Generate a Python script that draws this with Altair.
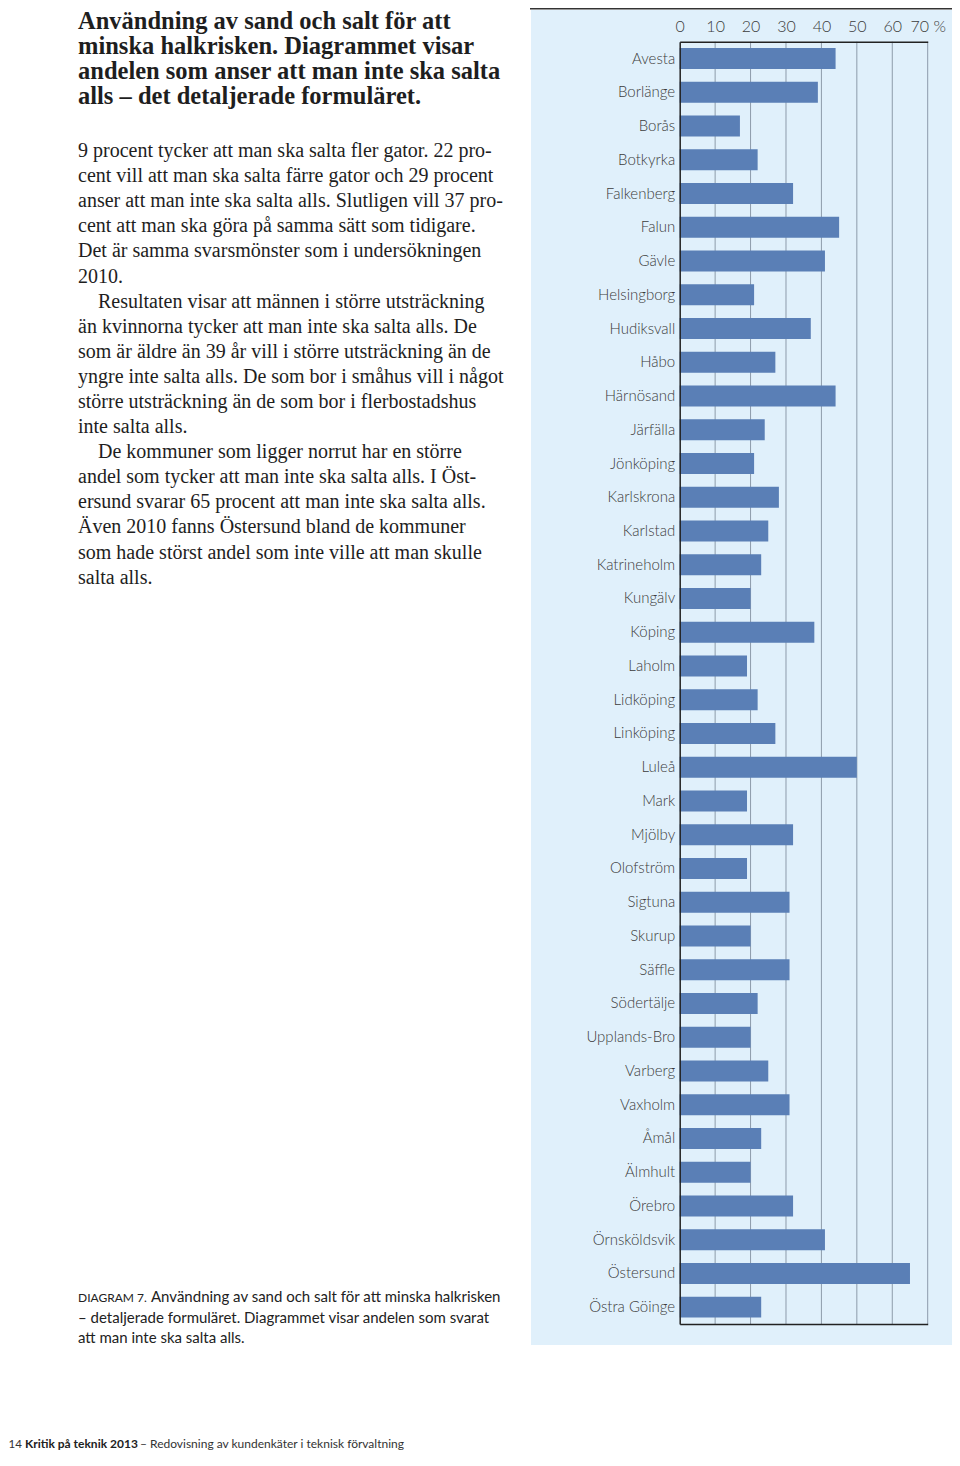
import altair as alt
import pandas as pd

# ---------------- data ----------------
kommuner = [
    "Avesta", "Borlänge", "Borås", "Botkyrka", "Falkenberg", "Falun", "Gävle",
    "Helsingborg", "Hudiksvall", "Håbo", "Härnösand", "Järfälla", "Jönköping",
    "Karlskrona", "Karlstad", "Katrineholm", "Kungälv", "Köping", "Laholm",
    "Lidköping", "Linköping", "Luleå", "Mark", "Mjölby", "Olofström", "Sigtuna",
    "Skurup", "Säffle", "Södertälje", "Upplands-Bro", "Varberg", "Vaxholm",
    "Åmål", "Älmhult", "Örebro", "Örnsköldsvik", "Östersund", "Östra Göinge",
]
andel = [
    44, 39, 17, 22, 32, 45, 41,
    21, 37, 27, 44, 24, 21,
    28, 25, 23, 20, 38, 19,
    22, 27, 50, 19, 32, 19, 31,
    20, 31, 22, 20, 25, 31,
    23, 20, 32, 41, 65, 23,
]
tick_values = [0, 10, 20, 30, 40, 50, 60, 70]
grid_values = [10, 20, 30, 40, 50, 60, 70]

title_lines = [
    "Användning av sand och salt för att",
    "minska halkrisken. Diagrammet visar",
    "andelen som anser att man inte ska salta",
    "alls – det detaljerade formuläret.",
]
para1 = [
    "9 procent tycker att man ska salta fler gator. 22 pro-",
    "cent vill att man ska salta färre gator och 29 procent",
    "anser att man inte ska salta alls. Slutligen vill 37 pro-",
    "cent att man ska göra på samma sätt som tidigare.",
    "Det är samma svarsmönster som i undersökningen",
    "2010.",
]
para2_first = "Resultaten visar att männen i större utsträckning"
para2_rest = [
    "än kvinnorna tycker att man inte ska salta alls. De",
    "som är äldre än 39 år vill i större utsträckning än de",
    "yngre inte salta alls. De som bor i småhus vill i något",
    "större utsträckning än de som bor i flerbostadshus",
    "inte salta alls.",
]
para3_first = "De kommuner som ligger norrut har en större"
para3_rest = [
    "andel som tycker att man inte ska salta alls. I Öst-",
    "ersund svarar 65 procent att man inte ska salta alls.",
    "Även 2010 fanns Östersund bland de kommuner",
    "som hade störst andel som inte ville att man skulle",
    "salta alls.",
]
caption_label = "DIAGRAM 7."
caption_first = "Användning av sand och salt för att minska halkrisken"
caption_rest = [
    "– detaljerade formuläret. Diagrammet visar andelen som svarat",
    "att man inte ska salta alls.",
]
footer_page = "14"
footer_bold = "Kritik på teknik 2013"
footer_rest = "– Redovisning av kundenkäter i teknisk förvaltning"

df = pd.DataFrame({"kommun": kommuner, "andel": andel})
grid_df = pd.DataFrame({"tick": grid_values})

# ---------------- layout ----------------
X0, Y0 = 679.7, 41.7          # page position of plot origin
W, H = 248, 1282.3
def px(x):
    return x - X0
def py(y):
    return y - Y0

BAR = "#5a7fb6"
BG = "#e0f0fb"
GRID = "#8d9baa"
DARK = "#222222"
LABEL = "#3c3c3c"
SANS = "Lato"
SERIF = "Liberation Serif"

one = alt.Data(values=[{"a": 1}])

x_scale = alt.Scale(domain=[0, 70], nice=False, zero=True)

background = alt.Chart(one).mark_rect(color=BG).encode(
    x=alt.value(px(531)), x2=alt.value(px(952)),
    y=alt.value(py(10)), y2=alt.value(py(1345)),
)
top_line = alt.Chart(one).mark_rule(color="#333333", strokeWidth=1.5).encode(
    x=alt.value(px(530)), x2=alt.value(px(952)), y=alt.value(py(8.8)),
)

grid = alt.Chart(grid_df).mark_rule(color=GRID, strokeWidth=1).encode(
    x=alt.X("tick:Q", scale=x_scale,
            axis=alt.Axis(orient="bottom", labels=False, ticks=False, grid=False,
                          domainColor=DARK, domainWidth=1.5, title=None, zindex=1)),
)

bars = alt.Chart(df).mark_bar(color=BAR).encode(
    x=alt.X("andel:Q", scale=x_scale,
            axis=alt.Axis(orient="top", values=tick_values, grid=False, ticks=False,
                          domainColor=DARK, domainWidth=1.5, title=None, zindex=1,
                          labelFlush=False, labelFont=SANS, labelFontWeight=300,
                          labelFontSize=16, labelColor=LABEL, labelPadding=7,
                          labelExpr="datum.value == 70 ? '70 %' : datum.label")),
    y=alt.Y("kommun:N", sort=kommuner,
            scale=alt.Scale(paddingInner=0.378, paddingOuter=0.189),
            axis=alt.Axis(ticks=False, domainColor=DARK, domainWidth=1.5, title=None,
                          zindex=1, labelFont=SANS, labelFontWeight=300,
                          labelFontSize=15, labelColor=LABEL, labelPadding=5)),
)

def text_block(lines, x, y, size, font, weight="normal", lh=25.1, color="#1e1e1e"):
    return alt.Chart(one).mark_text(
        text=lines, align="left", baseline="alphabetic", font=font,
        fontSize=size, fontWeight=weight, lineHeight=lh, color=color,
    ).encode(x=alt.value(px(x)), y=alt.value(py(y)))

texts = [
    text_block(title_lines, 78, 28.5, 24.5, SERIF, "bold", 25.3),
    text_block(para1, 78, 157, 20, SERIF),
    text_block([para2_first], 98, 307.6, 20, SERIF),
    text_block(para2_rest, 78, 332.7, 20, SERIF),
    text_block([para3_first], 98, 458.2, 20, SERIF),
    text_block(para3_rest, 78, 483.3, 20, SERIF),
    text_block([caption_label], 78, 1301.7, 12, SANS, "normal", 20.8, "#222222"),
    text_block([caption_first], 151, 1301.7, 15, SANS, "normal", 20.8, "#222222"),
    text_block(caption_rest, 78, 1322.5, 15, SANS, "normal", 20.8, "#222222"),
    text_block([footer_page], 8.5, 1447.5, 11.5, SANS, "normal", 14, "#333333"),
    text_block([footer_bold], 25, 1447.5, 12, SANS, "bold", 14, "#222222"),
    text_block([footer_rest], 140, 1447.5, 12, SANS, "normal", 14, "#333333"),
]

chart = alt.layer(background, top_line, grid, bars, *texts).resolve_axis(
    x="independent"
).properties(
    width=W, height=H,
    autosize=alt.AutoSizeParams(type="none"),
    padding={"left": X0 - 8, "top": Y0 - 8, "right": 944 - (X0 - 8) - W, "bottom": 128},
).configure_view(stroke=None).configure(background="white")

chart.save("out.html", embed_options={"renderer": "svg", "actions": False})
